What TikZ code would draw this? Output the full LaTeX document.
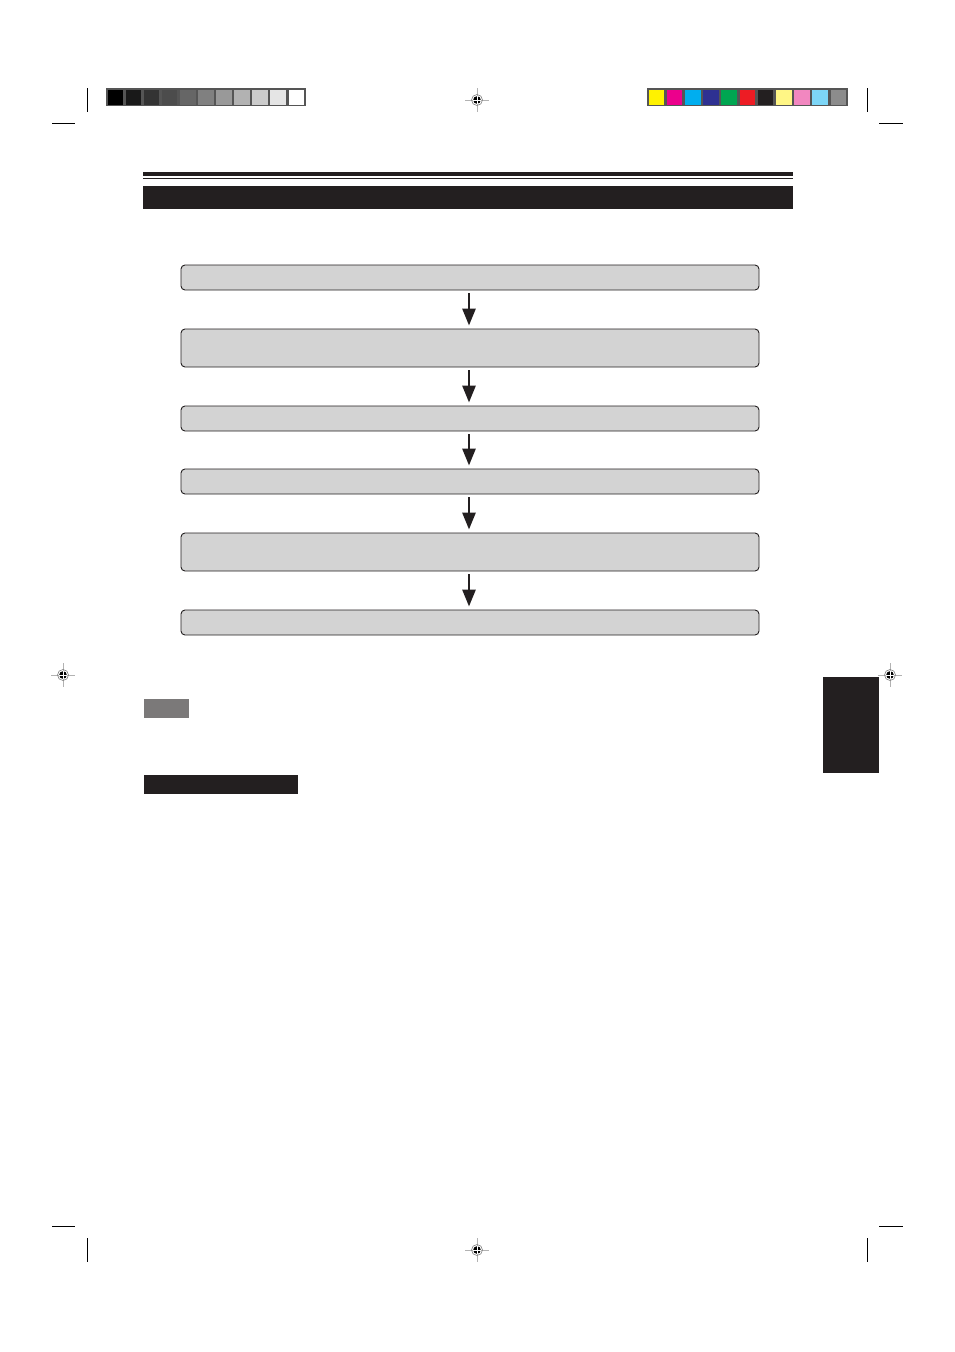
\documentclass[tikz,border=0pt]{standalone}
\usepackage{xcolor}
\usetikzlibrary{arrows.meta,positioning}
\definecolor{banner}{HTML}{231F20}
\definecolor{boxgray}{HTML}{D3D3D3}
\definecolor{notegray}{HTML}{7B7979}
\definecolor{stripedge}{HTML}{555555}
\definecolor{cyel}{HTML}{FFF200}
\definecolor{cmag}{HTML}{EC008C}
\definecolor{ccya}{HTML}{00AEEF}
\definecolor{cblu}{HTML}{2E3192}
\definecolor{cgrn}{HTML}{00A651}
\definecolor{cred}{HTML}{ED1C24}
\definecolor{cblk}{HTML}{231F20}
\definecolor{clye}{HTML}{FFF685}
\definecolor{cpnk}{HTML}{F287C0}
\definecolor{clcy}{HTML}{7DD6F7}
\definecolor{cgry}{HTML}{8C8C8C}
\tikzset{
  regmark/.pic={
    \draw[gray!60,line width=0.6pt] (-12,0) -- (12,0) (0,-12) -- (0,12);
    \draw[gray,line width=0.6pt] (0,0) circle (5.5pt);
    \fill[black] (0,0) circle (3.8pt);
    \draw[white,line width=0.8pt] (-4,0) -- (4,0) (0,-4) -- (0,4);
  },
  cropline/.style={line width=1pt,black}
}

\begin{document}
\begin{tikzpicture}[x=1pt,y=-1pt,
  stepbox/.style={draw=banner,line width=0.9pt,fill=boxgray,rounded corners=4pt,minimum width=578pt,inner sep=0pt},
  flow/.style={-{Triangle[width=13pt,length=17pt]},line width=2.8pt,draw=banner,shorten <=3pt,shorten >=3pt}]
\useasboundingbox (0,0) rectangle (954,1352);
\fill[white] (0,0) rectangle (954,1352);

% gray and colour strips
\fill[stripedge] (106,88) rectangle (306,106);
\foreach \g [count=\i from 0] in {100,90,80,70,60,50,40,30,20,10,0}
  \fill[black!\g] (107.5+\i*18.1,89.5) rectangle ++(15.6,15);
\fill[stripedge] (647,88) rectangle (848,106);
\foreach \c [count=\i from 0] in {cyel,cmag,ccya,cblu,cgrn,cred,cblk,clye,cpnk,clcy,cgry}
  \fill[\c] (648.5+\i*18.2,89.5) rectangle ++(15.6,15);

% crop marks
\draw[cropline] (87,88) -- (87,112) (52,123) -- (75,123);
\draw[cropline] (867,88) -- (867,112) (879,123) -- (903,123);
\draw[cropline] (52,1226) -- (75,1226) (87,1238) -- (87,1262);
\draw[cropline] (879,1226) -- (903,1226) (867,1238) -- (867,1262);

% registration marks
\pic at (477,100) {regmark};
\pic at (477,1250) {regmark};
\pic at (63,675) {regmark};
\pic at (890,675) {regmark};

% title
\fill[banner] (143,172) rectangle (793,176);
\draw[banner,line width=1pt] (143,178.5) -- (793,178.5);
\fill[banner] (143,186) rectangle (793,209);

% flow
\node[stepbox,minimum height=25pt] (s1) at (470,277.5) {};
\node[stepbox,minimum height=38pt] (s2) at (470,348) {};
\node[stepbox,minimum height=25pt] (s3) at (470,418.5) {};
\node[stepbox,minimum height=25pt] (s4) at (470,481.5) {};
\node[stepbox,minimum height=38pt] (s5) at (470,552) {};
\node[stepbox,minimum height=25pt] (s6) at (470,622.5) {};
\foreach \a/\b in {s1/s2,s2/s3,s3/s4,s4/s5,s5/s6}
  \draw[flow] ([xshift=-1pt]\a.south) -- ([xshift=-1pt]\b.north);

% note and labels
\fill[notegray] (144,699) rectangle (189,718);
\fill[banner] (144,775) rectangle (298,794);
\fill[banner] (823,677) rectangle (879,773);
\end{tikzpicture}
\end{document}
